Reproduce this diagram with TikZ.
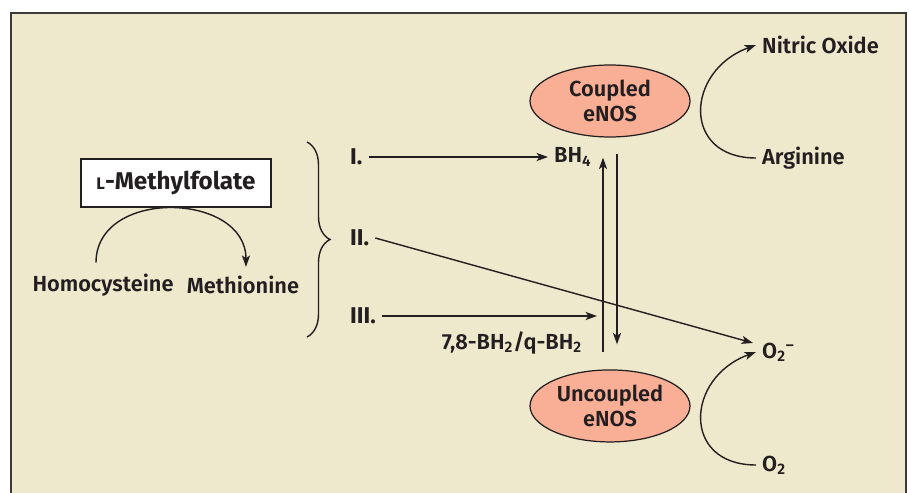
\documentclass[tikz,border=0pt]{standalone}
\usepackage{fontspec}
\setmainfont{Fira Sans SemiBold}[BoldFont={Fira Sans Bold}]
\usepackage{tikz}
\usetikzlibrary{shapes,arrows.meta,calc,decorations.pathreplacing}

\definecolor{paper}{HTML}{EEE8CD}
\definecolor{salmon}{HTML}{F9AE96}
\definecolor{ink}{HTML}{231F20}
\definecolor{framegray}{HTML}{3A3A3A}

\begin{document}
\begin{tikzpicture}[>={Stealth[length=6.5pt, width=4.6pt, inset=1.6pt]}, x=0.02cm, y=0.02cm, node distance=2.8cm, color=ink, font=\fontsize{12.4}{14.5}\selectfont]
    % Styles
    \tikzstyle{enzyme} = [ellipse, draw, fill=salmon, line width=0.7pt, minimum width=3.2cm, minimum height=1.44cm, inner sep=0pt, align=center]
    \tikzstyle{folate} = [rectangle, draw, fill=white, line width=0.7pt, minimum width=3.8cm, minimum height=0.96cm, font=\fontsize{13.8}{15}\selectfont\bfseries]
    \tikzstyle{route} = [anchor=west, font=\fontsize{13}{15}\selectfont\bfseries]
    \tikzstyle{species} = [anchor=west]
    \tikzstyle{flow} = [->, line width=0.8pt]

    % Frame
    \useasboundingbox (0,0) rectangle (909,-493);
    \fill[white] (0,0) rectangle (909,-493);
    \draw[fill=paper, draw=framegray, line width=1.1pt] (11,-13) rectangle (906,-530);

    % Nodes
    \node[folate] (Folate) at (176,-183) {{\fontsize{9.5}{9.5}\selectfont L}-Methylfolate};
    \node (Homocysteine) at (103,-285) {Homocysteine};
    \node (Methionine) [right of=Homocysteine] {Methionine};

    \node[route] (Route1) at (344,-157) {I.};
    \node[route] (Route2) at (344,-238) {II.};
    \node[route] (Route3) at (344,-316) {III.};

    \node[enzyme] (Coupled) at (610,-101) {Coupled\\eNOS};
    \node[enzyme] (Uncoupled) [below of=Coupled, node distance=6.1cm] {Uncoupled\\eNOS};

    \node[species] (BHfour) at (548,-157) {BH\textsubscript{4}};
    \node (BHtwo) at (512,-343) {7,8-BH\textsubscript{2}/q-BH\textsubscript{2}};
    \node[species] (NitricOxide) at (756,-45) {Nitric Oxide};
    \node[species] (Arginine) at (756,-158) {Arginine};
    \node[species] (Superoxide) at (756,-352) {O\textsubscript{2}\textsuperscript{–}};
    \node[species] (Oxygen) at (756,-465) {O\textsubscript{2}};
    \coordinate (Pool) at (597,-316);

    % Brace
    \draw[decorate, decoration={brace, amplitude=0.46cm}, line width=0.8pt] (307,-142) -- (307,-337);

    % Arrows
    \draw[flow] ($(Homocysteine.north)+(-7,5)$) .. controls +(0,75) and +(0,75) .. ($(Methionine.north)+(3,3)$);
    \draw[flow] (Route1.east) -- (Route1.east -| BHfour.west);
    \draw[flow] (Route2.east) -- ($(Superoxide.west)+(-3,9)$);
    \draw[flow] (Route3.east) -- (Pool);

    \draw[flow] ($(Uncoupled.north)+(-7,17)$) -- ($(Coupled.south)+(-7,-20)$);
    \draw[flow] ($(Coupled.south)+(7,-16)$) -- ($(Uncoupled.north)+(7,25)$);

    % Cofactor cycles
    \draw[flow] (Arginine.west) to[out=180, in=200, looseness=1.7] (NitricOxide.west);
    \draw[flow] (Oxygen.west) to[out=180, in=200, looseness=1.7] (Superoxide.west);

\end{tikzpicture}
\end{document}
